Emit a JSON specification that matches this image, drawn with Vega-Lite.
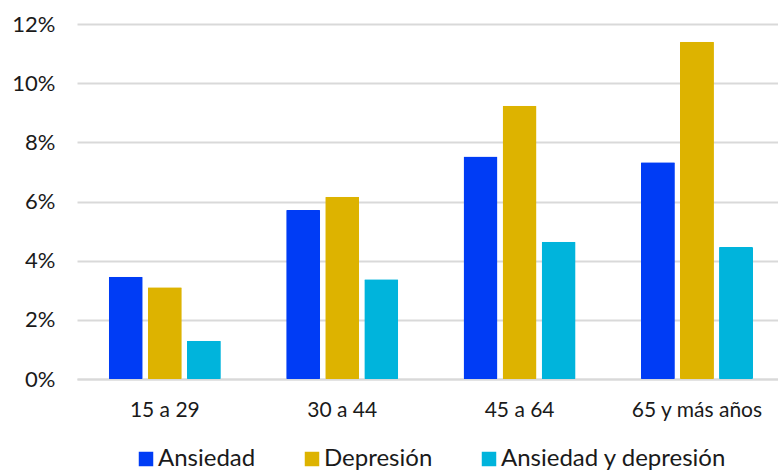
{
  "$schema": "https://vega.github.io/schema/vega-lite/v6.json",
  "width": 701,
  "height": 355,
  "autosize": {"type": "none"},
  "padding": {"left": 77, "top": 24, "right": 0, "bottom": 92},
  "background": "white",
  "config": {
    "font": "Lato",
    "view": {"stroke": null},
    "axis": {"labelFont": "Lato", "labelColor": "#1a1a1a"},
    "legend": {"labelFont": "Lato"}
  },
  "data": {
    "values": [
      {"edad": "15 a 29", "serie": "Ansiedad", "valor": 0.0346},
      {"edad": "15 a 29", "serie": "Depresión", "valor": 0.0310},
      {"edad": "15 a 29", "serie": "Ansiedad y depresión", "valor": 0.0129},
      {"edad": "30 a 44", "serie": "Ansiedad", "valor": 0.0571},
      {"edad": "30 a 44", "serie": "Depresión", "valor": 0.0616},
      {"edad": "30 a 44", "serie": "Ansiedad y depresión", "valor": 0.0337},
      {"edad": "45 a 64", "serie": "Ansiedad", "valor": 0.0752},
      {"edad": "45 a 64", "serie": "Depresión", "valor": 0.0924},
      {"edad": "45 a 64", "serie": "Ansiedad y depresión", "valor": 0.0464},
      {"edad": "65 y más años", "serie": "Ansiedad", "valor": 0.0733},
      {"edad": "65 y más años", "serie": "Depresión", "valor": 0.1140},
      {"edad": "65 y más años", "serie": "Ansiedad y depresión", "valor": 0.0446}
    ]
  },
  "mark": {"type": "bar", "cornerRadius": 1},
  "encoding": {
    "x": {
      "field": "edad",
      "type": "nominal",
      "sort": ["15 a 29", "30 a 44", "45 a 64", "65 y más años"],
      "scale": {"paddingInner": 0.368, "paddingOuter": 0.16, "align": 0.56},
      "axis": {
        "title": null,
        "labelAngle": 0,
        "labelFontSize": 21,
        "labelPadding": 20,
        "ticks": false,
        "domainColor": "#D9D9D9",
        "domainWidth": 2,
        "grid": false
      }
    },
    "xOffset": {
      "field": "serie",
      "type": "nominal",
      "sort": ["Ansiedad", "Depresión", "Ansiedad y depresión"],
      "scale": {"paddingInner": 0.13}
    },
    "y": {
      "field": "valor",
      "type": "quantitative",
      "scale": {"domain": [0, 0.12]},
      "axis": {
        "title": null,
        "format": ".0%",
        "values": [0, 0.02, 0.04, 0.06, 0.08, 0.1, 0.12],
        "labelFontSize": 22,
        "labelPadding": 22,
        "ticks": false,
        "domain": false,
        "gridColor": "#D9D9D9",
        "gridWidth": 2
      }
    },
    "color": {
      "field": "serie",
      "type": "nominal",
      "sort": ["Ansiedad", "Depresión", "Ansiedad y depresión"],
      "scale": {
        "domain": ["Ansiedad", "Depresión", "Ansiedad y depresión"],
        "range": ["#003CF5", "#DDB300", "#00B4DC"]
      },
      "legend": {
        "title": null,
        "orient": "none",
        "legendX": 57,
        "legendY": 423,
        "direction": "horizontal",
        "symbolType": "square",
        "symbolSize": 210,
        "symbolStrokeWidth": 0,
        "labelFontSize": 24,
        "labelLimit": 400,
        "labelColor": "#1a1a1a",
        "labelOffset": 0,
        "columnPadding": 44
      }
    }
  }
}
